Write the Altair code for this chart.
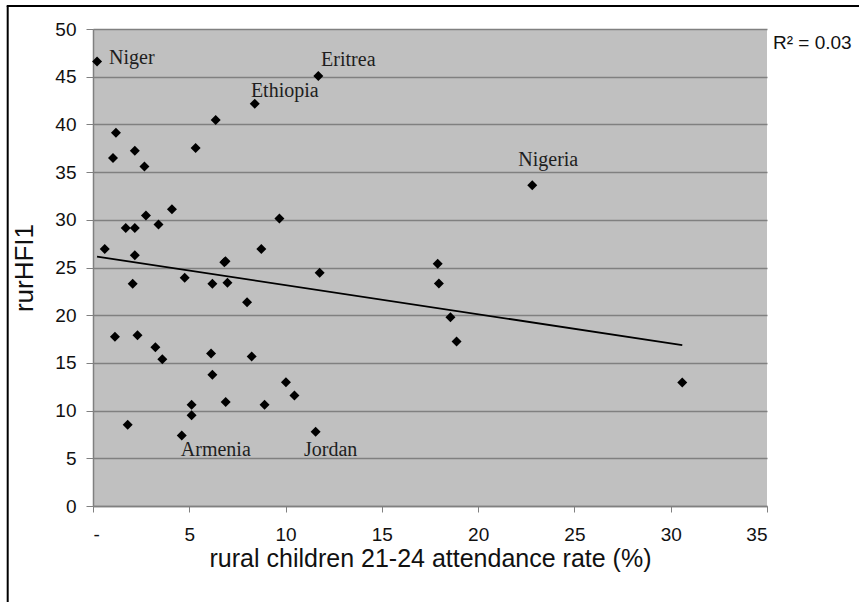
import altair as alt
import pandas as pd

# ---- data ----
attendance = [0.21, 1.19, 1.04, 2.17, 2.67, 5.33, 6.37, 8.40, 11.70, 1.70,
              2.17, 2.75, 3.40, 4.10, 9.68, 0.61, 2.17, 2.06, 4.76, 6.20,
              6.82, 6.88, 6.98, 8.00, 8.74, 11.77, 17.90, 17.96, 18.56, 18.88,
              22.81, 30.60, 1.14, 2.31, 3.24, 3.60, 6.13, 6.20, 8.24, 5.12,
              5.12, 6.89, 1.80, 4.61, 10.02, 10.46, 8.91, 11.56]
rurhfi1 = [46.6, 39.13, 36.48, 37.25, 35.6, 37.53, 40.46, 42.17, 45.07, 29.15,
           29.15, 30.44, 29.5, 31.1, 30.13, 26.95, 26.28, 23.29, 23.92, 23.29,
           25.55, 25.65, 23.39, 21.36, 26.95, 24.44, 25.38, 23.32, 19.79, 17.25,
           33.61, 12.95, 17.74, 17.91, 16.65, 15.39, 15.99, 13.76, 15.68, 10.62,
           9.50, 10.89, 8.52, 7.40, 12.98, 11.59, 10.62, 7.79]

label_names = ["Niger", "Eritrea", "Ethiopia", "Nigeria", "Armenia", "Jordan"]
label_index = [0, 8, 7, 30, 43, 47]

trend_x = [0.21, 30.6]
trend_y = [26.15, 16.86]

x_ticks = [0, 5, 10, 15, 20, 25, 30, 35]
y_ticks = [0, 5, 10, 15, 20, 25, 30, 35, 40, 45, 50]

x_title = "rural children 21-24 attendance rate (%)"
y_title = "rurHFI1"
r2_text = "R² = 0.03"

# ---- tables ----
pts = pd.DataFrame({"x": attendance, "y": rurhfi1})
lab = pd.DataFrame({
    "name": label_names,
    "x": [attendance[i] for i in label_index],
    "y": [rurhfi1[i] for i in label_index],
})
trend = pd.DataFrame({"x": trend_x, "y": trend_y})

W, H = 674, 477
PAD_L, PAD_T = 93, 29

xs = alt.Scale(domain=[0, 35], nice=False, zero=False)
ys = alt.Scale(domain=[0, 50], nice=False, zero=False)

x_axis = alt.Axis(values=x_ticks, grid=False, labelExpr="datum.value == 0 ? '-' : datum.label",
                  title=x_title, titleFontSize=25, titleFont="Liberation Sans",
                  titleFontWeight="normal", titleColor="#111",
                  titleY=60, titleBaseline="alphabetic",
                  labelFontSize=19, labelFont="Liberation Sans", labelColor="#111",
                  labelPadding=13, tickSize=6, tickColor="#808080",
                  domainColor="#808080", domainWidth=1.5)
y_axis = alt.Axis(values=y_ticks, grid=True, gridColor="#808080", gridWidth=1.4,
                  title=y_title, titleFontSize=26, titleFont="Liberation Sans",
                  titleFontWeight="normal", titleColor="#111",
                  titleAngle=-90, titleX=-69, titleY=H / 2,
                  titleAlign="center", titleBaseline="middle",
                  labelFontSize=19, labelFont="Liberation Sans", labelColor="#111",
                  labelPadding=10, tickSize=7, tickColor="#808080",
                  domainColor="#808080", domainWidth=1.5)

points = alt.Chart(pts).mark_point(shape="diamond", filled=True, color="black",
                                   size=100, opacity=1).encode(
    x=alt.X("x:Q", scale=xs, axis=x_axis),
    y=alt.Y("y:Q", scale=ys, axis=y_axis),
)

trend_line = alt.Chart(trend).mark_line(color="black", strokeWidth=1.8).encode(
    x=alt.X("x:Q", scale=xs),
    y=alt.Y("y:Q", scale=ys),
)

offsets = {
    "Niger": (12, -3, "left"),
    "Eritrea": (30, -16, "center"),
    "Ethiopia": (30, -13, "center"),
    "Nigeria": (16, -25, "center"),
    "Armenia": (34, 15, "center"),
    "Jordan": (15, 18, "center"),
}
label_layers = []
for name in label_names:
    dx, dy, al = offsets[name]
    label_layers.append(
        alt.Chart(lab).transform_filter(alt.datum.name == name).mark_text(
            font="Liberation Serif", fontSize=20, color="#1e1e1e",
            align=al, baseline="middle", dx=dx, dy=dy,
        ).encode(x=alt.X("x:Q", scale=xs), y=alt.Y("y:Q", scale=ys), text="name:N")
    )

one = pd.DataFrame({"t": [r2_text]})
r2 = alt.Chart(one).mark_text(font="Liberation Sans", fontSize=19, color="#111",
                              align="left", baseline="middle").encode(
    x=alt.value(W + 6), y=alt.value(14), text="t:N")

frame_left = alt.Chart(one).mark_rule(color="black", strokeWidth=2).encode(
    x=alt.value(7.7 - PAD_L), y=alt.value(6 - PAD_T), y2=alt.value(700))
frame_top = alt.Chart(one).mark_rule(color="black", strokeWidth=2).encode(
    x=alt.value(6.7 - PAD_L), x2=alt.value(900), y=alt.value(6 - PAD_T))

chart = alt.layer(points, trend_line, *label_layers, r2, frame_left, frame_top).properties(
    width=W, height=H,
    padding={"left": PAD_L, "top": PAD_T, "right": 859 - PAD_L - W, "bottom": 602 - PAD_T - H},
    autosize=alt.AutoSizeParams(type="none"),
    background="white",
).configure_view(fill="#c0c0c0", stroke=None)

chart.save("out.html", embed_options={"renderer": "svg", "actions": False})
